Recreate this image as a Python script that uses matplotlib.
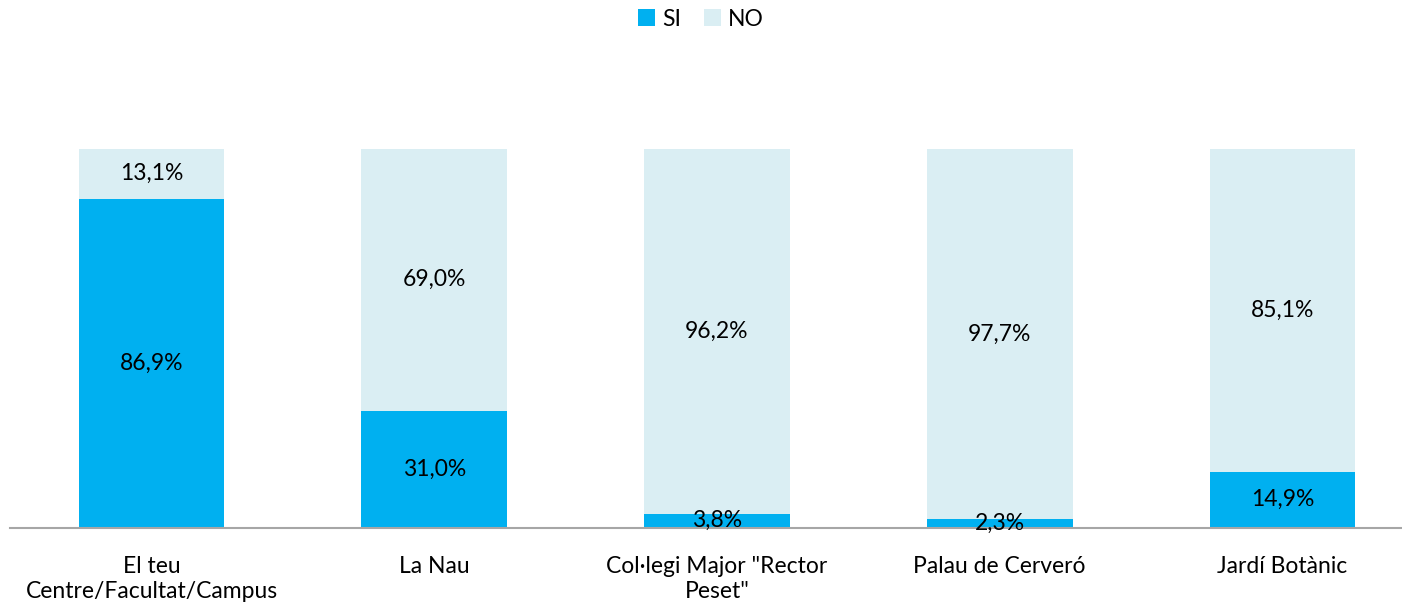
import matplotlib
matplotlib.use("Agg")
import matplotlib.pyplot as plt
import numpy as np

categories = ["El teu\nCentre/Facultat/Campus", "La Nau", "Col·legi Major \"Rector\nPeset\"",
              "Palau de Cerveró", "Jardí Botànic"]
si_values = [86.9, 31.0, 3.8, 2.3, 14.9]
no_values = [13.1, 69.0, 96.2, 97.7, 85.1]

SI_COLOR = "#00B0F0"
NO_COLOR = "#DAEEF3"

plt.rcParams['font.family'] = ['Lato', 'DejaVu Sans']

fig = plt.figure(figsize=(14.02, 6.08), dpi=100)
ax = fig.add_axes([10.1 / 1402, 80 / 608, 5 * 282.75 / 1402, 379 / 608])

x = np.arange(len(categories))
si = np.array(si_values)
no = np.array(no_values)
b1 = ax.bar(x, si, width=0.515, color=SI_COLOR, label="SI")
b2 = ax.bar(x, no, width=0.515, bottom=si, color=NO_COLOR, label="NO")

for i in range(len(x)):
    s = f"{si[i]:.1f}%".replace(".", ",")
    n = f"{no[i]:.1f}%".replace(".", ",")
    ax.text(x[i], si[i] / 2, s, ha="center", va="center", fontsize=16.5, color="black")
    ax.text(x[i], si[i] + no[i] / 2, n, ha="center", va="center", fontsize=16.5, color="black")

ax.set_xlim(-0.5, len(x) - 0.5)
ax.set_ylim(0, 100)
ax.set_yticks([])
ax.set_xticks(x)
ax.set_xticklabels(categories, fontsize=16.5, linespacing=1.25)
ax.tick_params(axis="x", length=0, pad=20)
for side in ["top", "right", "left"]:
    ax.spines[side].set_visible(False)
ax.spines["bottom"].set_color("#A6A6A6")
ax.spines["bottom"].set_linewidth(1.5)
ax.spines["bottom"].set_clip_on(False)

fig.legend(handles=[b1, b2], labels=["SI", "NO"], loc="center", bbox_to_anchor=(0.5, 1 - 19 / 608),
           ncol=2, frameon=False, fontsize=16.5, handlelength=0.75, handleheight=0.75,
           handletextpad=0.3, columnspacing=1.0)

fig.savefig("out.png", dpi=100)
